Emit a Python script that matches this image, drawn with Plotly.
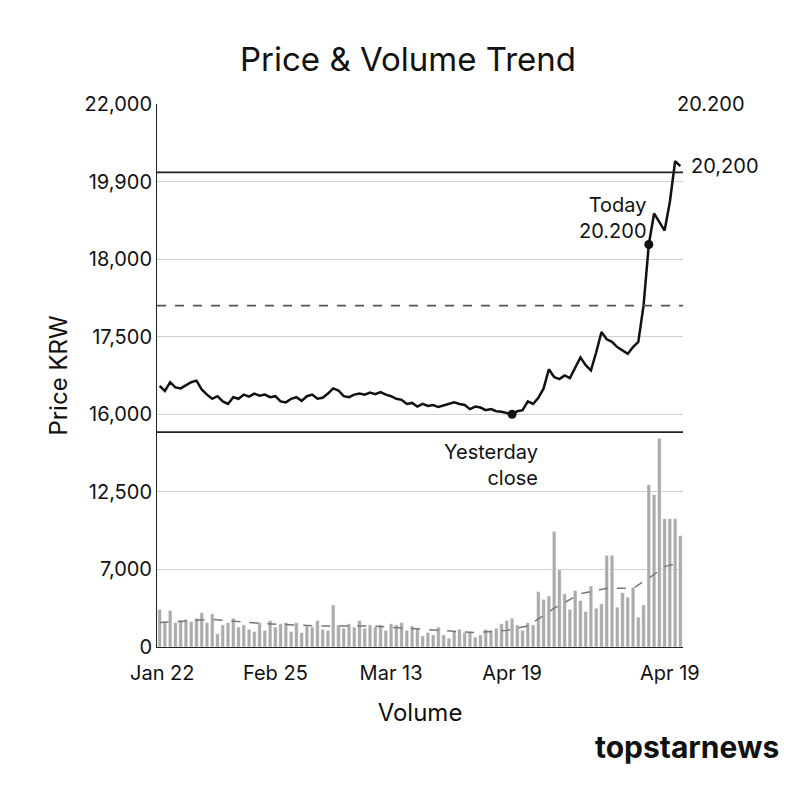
import numpy as np
import plotly.graph_objects as go

# tick scales (labels are not linear, each tick is one step on the axis)
price_ticks = [16000, 17500, 18000, 19900, 22000]
volume_ticks = [0, 7000, 12500, 18000]

price = [16550, 16450, 16620, 16520, 16500, 16560, 16620, 16650, 16480, 16380,
         16300, 16350, 16250, 16200, 16330, 16300, 16380, 16340, 16400, 16360,
         16380, 16330, 16350, 16250, 16230, 16300, 16330, 16260, 16350, 16380,
         16300, 16320, 16400, 16500, 16460, 16350, 16330, 16380, 16400, 16380,
         16420, 16390, 16430, 16380, 16350, 16300, 16280, 16200, 16220, 16150,
         16200, 16160, 16180, 16140, 16170, 16200, 16230, 16200, 16180, 16100,
         16150, 16130, 16080, 16100, 16060, 16050, 16030, 16000, 16060, 16080,
         16250, 16200, 16320, 16500, 16870, 16720, 16680, 16750, 16700, 16900,
         17100, 16950, 16850, 17200, 17530, 17450, 17400, 17300, 17240, 17170,
         17300, 17400, 17700, 18360, 19120, 18900, 18700, 19400, 20450, 20320]

volume = [3400, 2300, 3300, 2200, 2400, 2500, 2300, 2600, 3100, 2200,
          3000, 1200, 2000, 2200, 2600, 1800, 2000, 1600, 1400, 2200,
          1500, 2400, 1800, 2100, 2200, 1400, 2200, 1300, 1900, 1800,
          2400, 1600, 1500, 3800, 2000, 1700, 2100, 1800, 2400, 1700,
          2000, 1800, 2000, 1500, 2100, 2000, 2200, 1500, 1900, 1700,
          1000, 1300, 1100, 1800, 1100, 800, 1400, 1600, 1300, 1400,
          900, 1100, 1600, 1500, 1700, 2100, 2400, 2600, 2000, 1500,
          2200, 2000, 5000, 4300, 4600, 9700, 7000, 4800, 3400, 5100,
          4200, 3200, 5500, 3500, 3900, 8000, 8000, 3600, 4900, 4500,
          5400, 2700, 3800, 13000, 12300, 16300, 10600, 10600, 10600, 9400]

ma_idx = [0, 10, 20, 30, 40, 50, 60, 66, 70, 75, 80, 85, 90, 93, 96, 99]
ma_val = [2200, 2500, 2100, 1900, 1900, 1600, 1300, 1500, 1900, 3500, 4800, 5300, 5300, 6200, 7200, 7500]

tick_idx = [0.5, 22, 44, 67, 97]
tick_lab = ["Jan 22", "Feb 25", "Mar 13", "Apr 19", "Apr 19"]


def price_pos(v):
    return np.interp(v, price_ticks, [3, 4, 5, 6, 7])


def vol_pos(v):
    return np.interp(v, volume_ticks, [0, 1, 2, 3])


x = list(range(len(price)))
fig = go.Figure()
fig.add_bar(x=x, y=vol_pos(volume), marker_color="#ababab", width=0.7)
fig.add_scatter(x=ma_idx, y=vol_pos(ma_val), mode="lines",
                line=dict(color="#777", width=1.5, dash="dash"))
fig.add_scatter(x=x, y=price_pos(price), mode="lines",
                line=dict(color="#111", width=2.5))
fig.add_scatter(x=[67, 93], y=price_pos([price[67], price[93]]), mode="markers",
                marker=dict(color="#111", size=9))

for yv, dash in [(price_pos(20150), "solid"), (price_pos(17700), "dash"), (2.77, "solid")]:
    fig.add_shape(type="line", xref="x", yref="y", x0=-0.5, x1=99.5, y0=yv, y1=yv,
                  line=dict(color="#222" if dash == "solid" else "#555", width=1.8, dash=dash))

ann = dict(showarrow=False, font=dict(size=20, color="#111"))
fig.add_annotation(x=98, y=7, text="20.200", xanchor="left", yanchor="middle", **ann)
fig.add_annotation(x=1.0, xref="paper", y=price_pos(20320), text="20,200",
                   xanchor="left", xshift=6, **ann)
fig.add_annotation(x=93, y=price_pos(19000), text="Today<br>20.200", xanchor="right", align="right", **ann)
fig.add_annotation(x=63, y=2.35, text="Yesterday<br>close", xanchor="center", align="right", **ann)
fig.add_annotation(x=1.0, y=0.0, xref="paper", yref="paper", xshift=98, yshift=-120,
                   text="<b>topstarnews</b>", showarrow=False, xanchor="right",
                   font=dict(size=30, color="#111", family="Inter"))

fig.update_layout(
    width=800, height=800, template="plotly_white", showlegend=False,
    margin=dict(l=149, r=125, t=96, b=161),
    font=dict(family="Inter", size=20, color="#111"),
    title=dict(text="Price & Volume Trend", x=0.5, y=0.95, font=dict(size=33)),
    bargap=0.2,
    xaxis=dict(range=[-0.5, 99.5], tickvals=tick_idx, ticktext=tick_lab, showgrid=False,
               showline=True, linecolor="#222", ticks="outside", ticklen=8, tickcolor="white",
               title=dict(text="Volume", standoff=20)),
    yaxis=dict(range=[0, 7], tickvals=list(range(8)),
               ticktext=["0", "7,000", "12,500", "16,000", "17,500", "18,000", "19,900", "22,000"],
               showgrid=True, gridcolor="#d0d0d0", showline=True, linecolor="#222",
               zeroline=False, title=dict(text="Price KRW", standoff=10)),
)
fig.write_html("out.html")
